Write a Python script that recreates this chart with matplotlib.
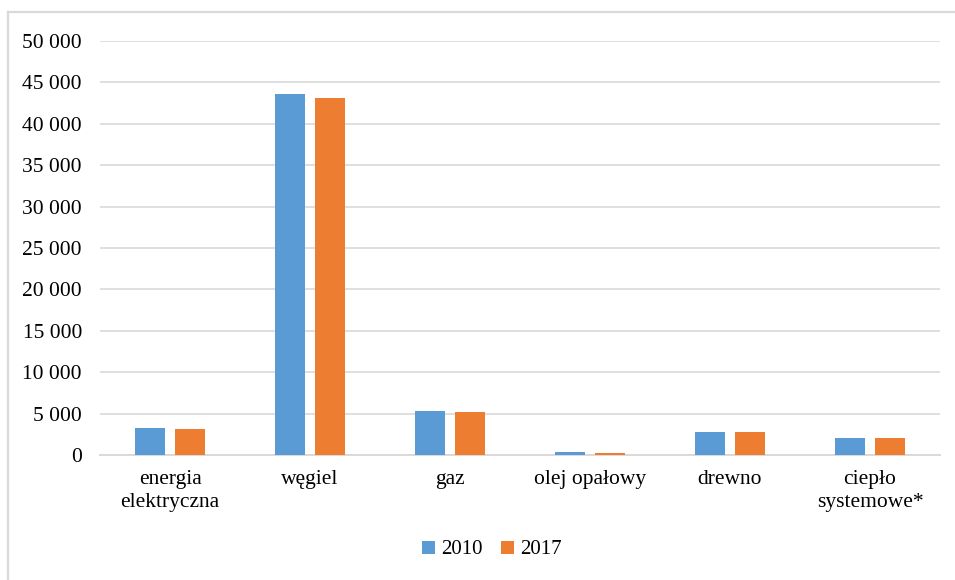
import numpy as np
import matplotlib.pyplot as plt
from matplotlib.lines import Line2D
from matplotlib.ticker import FuncFormatter

categories = ['energia\nelektryczna', 'węgiel', 'gaz', 'olej opałowy', 'drewno', 'ciepło\nsystemowe*']
years = ['2010', '2017']
values_2010 = [3250, 43600, 5270, 360, 2820, 2050]
values_2017 = [3200, 43100, 5190, 280, 2780, 2010]
yticks = np.arange(0, 50001, 5000)

plt.rcParams['font.family'] = ['Liberation Serif', 'DejaVu Serif']

fig = plt.figure(figsize=(9.55, 5.8), dpi=100)
ax = fig.add_axes([100 / 955, 1 - 455 / 580, 840 / 955, 414 / 580])

# light frame: top and left edges of the chart box
frame_kw = dict(transform=fig.transFigure, color='#d9d9d9', linewidth=1.6)
fig.lines.append(Line2D([8 / 955, 1.0], [1 - 12 / 580, 1 - 12 / 580], **frame_kw))
fig.lines.append(Line2D([8 / 955, 8 / 955], [0, 1 - 12 / 580], **frame_kw))

x = np.arange(len(categories))
w = 0.22
off = 0.143
ax.bar(x - off, values_2010, w, color='#5b9bd5', label=years[0], zorder=3)
ax.bar(x + off, values_2017, w, color='#ed7d31', label=years[1], zorder=3)

ax.set_xlim(-0.5, len(categories) - 0.5)
ax.set_ylim(0, 50000)
ax.set_yticks(yticks)
ax.yaxis.set_major_formatter(FuncFormatter(lambda v, p: f'{int(v):,}'.replace(',', ' ')))
ax.set_xticks(x)
ax.set_xticklabels(categories, linespacing=1.3)
ax.tick_params(axis='both', length=0, labelsize=15.5, colors='black')
ax.tick_params(axis='y', pad=13)
ax.tick_params(axis='x', pad=11)

ax.grid(axis='y', color='#d9d9d9', linewidth=1.2, zorder=0)
for s in ['top', 'right', 'left']:
    ax.spines[s].set_visible(False)
ax.spines['bottom'].set_color('#d9d9d9')
ax.spines['bottom'].set_linewidth(1.4)

ax.legend(loc='center', bbox_to_anchor=(492 / 955, 1 - 550 / 580),
          bbox_transform=fig.transFigure, ncol=2, frameon=False,
          fontsize=15, handlelength=0.6, handleheight=0.6,
          handletextpad=0.3, columnspacing=0.9)

fig.savefig('out.png', dpi=100)
